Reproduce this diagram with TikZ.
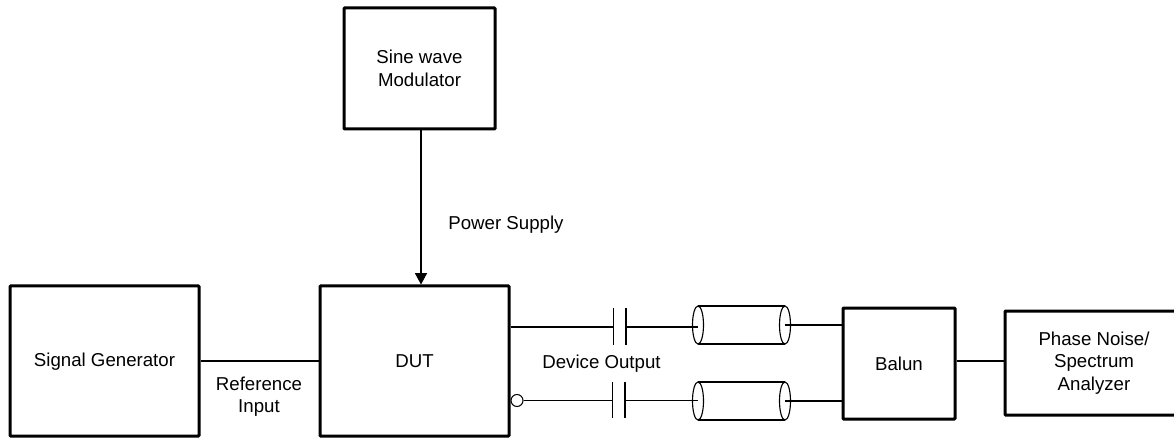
\documentclass[tikz,border=0pt]{standalone}
\usepackage{fontspec}
\setmainfont{Liberation Sans}
\usetikzlibrary{arrows.meta}
\newcommand{\cablebody}[4]{% name, xleft, xright, ycentre
  \coordinate (#1L) at (#2,#4);
  \coordinate (#1R) at (#3,#4);
  \draw[cableline] (#2,#4-19) -- (#3,#4-19);
  \draw[cableline] (#2,#4+19) -- (#3,#4+19);
  \draw[cableline] (#1L) ellipse [x radius=5.5, y radius=19];
  \draw[cableline] (#1R) ellipse [x radius=5.5, y radius=19];
}
\tikzset{
  x=0.75pt, y=-0.75pt,
  blockbox/.style={draw=black, line width=2.25pt, rounded corners=0.5pt, align=center, inner sep=0pt,
    font=\fontsize{14}{16.9}\selectfont},
  wire/.style={draw=black, line width=0.8pt},
  cableline/.style={draw=black, line width=0.85pt},
  plate/.style={draw=black, line width=0.8pt},
  lbl/.style={align=center, inner sep=0pt, text=black, font=\fontsize{14}{16.9}\selectfont},
  feed/.style={wire, -{Triangle[length=8.5pt, width=9pt]}},
}
\begin{document}
\begin{tikzpicture}
\useasboundingbox[clip] (0,0) rectangle (1174,438);
\node[blockbox, minimum width=189*0.75pt, minimum height=150*0.75pt] (sg) at (104.5,361) {\rule{0pt}{11.7pt}Signal Generator};
\node[blockbox, minimum width=189*0.75pt, minimum height=150*0.75pt] (dut) at (414.5,361) {DUT};
\node[blockbox, minimum width=151*0.75pt, minimum height=121*0.75pt] (sine) at (419.5,68.5) {Sine wave\\Modulator};
\node[blockbox, minimum width=112*0.75pt, minimum height=111*0.75pt] (balun) at (899,363.5) {Balun};
\node[blockbox, minimum width=178*0.75pt, minimum height=104*0.75pt] (pna) at (1094,363) {Phase Noise/\\Spectrum\\Analyzer};

\node[lbl] (power) at (506,225) {Power Supply};
\node[lbl] (ref) at (259,396.5) {Reference\\Input};
\node[lbl] (dev) at (601.5,363.4) {Device Output};

\coordinate (fa) at (421,129);
\coordinate (link) at (955,361);
\draw[feed] (sine.south -| fa) -- (dut.north -| fa);
\draw[wire] (sg.east) -- (dut.west);
\draw[wire] (balun.east |- link) -- (pna.west |- link);

% capacitors
\coordinate (c1a) at (613.5,327);
\coordinate (c1b) at (626,327);
\coordinate (c2a) at (612.5,400.5);
\coordinate (c2b) at (625,400.5);
\draw[plate] (613.5,308) -- (c1a) -- (613.5,345);
\draw[plate] (626,308) -- (c1b) -- (626,345);
\draw[plate] (612.5,382) -- (c2a) -- (612.5,418);
\draw[plate] (625,382) -- (c2b) -- (625,418);

% cables
\cablebody{ca}{698}{785}{325}
\cablebody{cb}{698}{785}{401}

% inverted output bubble
\node[draw=black, line width=0.8pt, circle, minimum size=12*0.75pt, inner sep=0pt, fill=white] (bub) at (517,400.5) {};

\draw[wire] (dut.east |- c1a) -- (c1a);
\draw[wire] (c1b) -- (caL |- c1b);
\draw[wire] (caR) -- (balun.west |- caR);
\draw[wire] (bub.east) -- (c2a);
\draw[wire] (c2b) -- (cbL |- c2b);
\draw[wire] (cbR) -- (balun.west |- cbR);
\end{tikzpicture}
\end{document}
